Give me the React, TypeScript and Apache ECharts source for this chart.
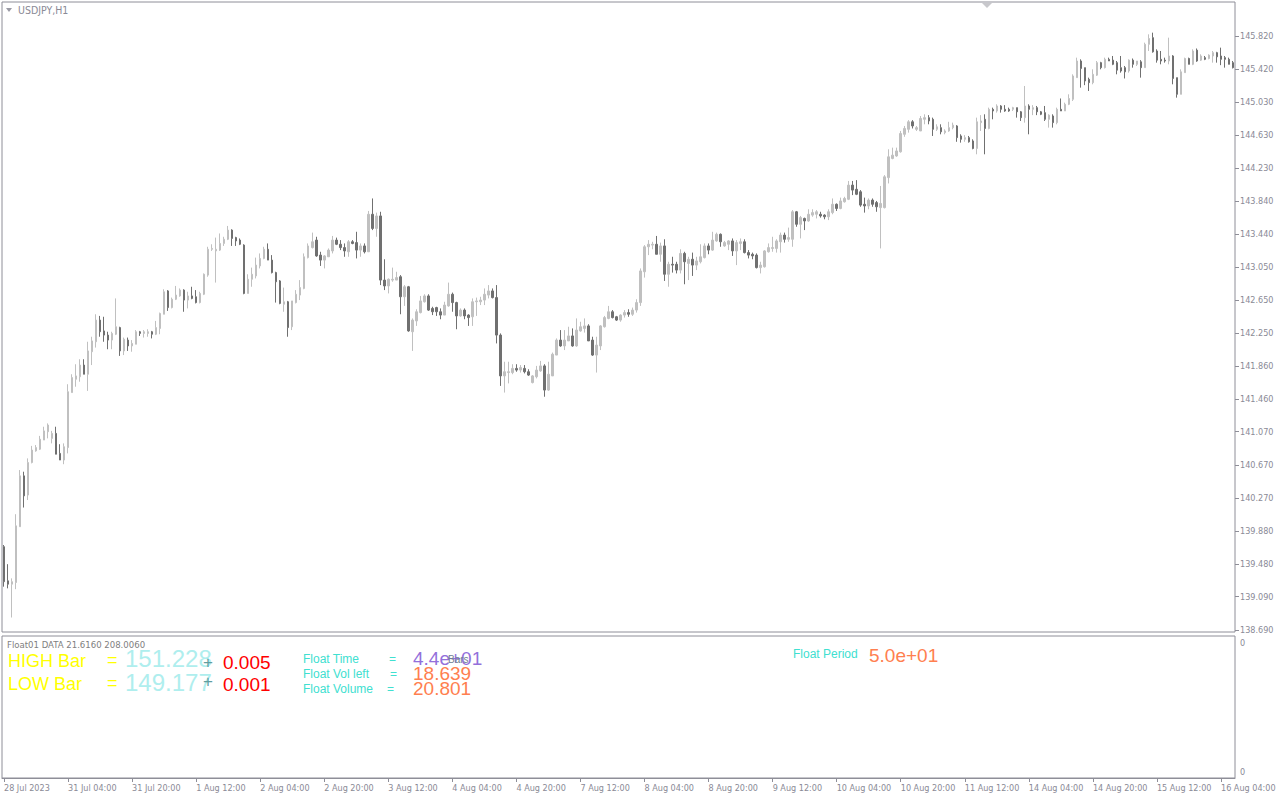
import React, { useEffect, useRef } from "react";
import * as echarts from "echarts";

// Each bar: [open, close, low, high]
type Bar = [number, number, number, number];

const d0728: Bar[] = [
  [139.69, 139.27, 139.21, 139.71], [139.28, 139.24, 139.19, 139.48], [139.24, 139.27, 138.84, 139.31], [139.26, 139.94, 139.18, 140.08],
  [139.93, 140.54, 139.93, 140.61], [140.54, 140.30, 140.16, 140.59], [140.31, 140.70, 140.25, 140.75], [140.70, 140.85, 140.69, 140.90],
  [140.84, 140.88, 140.83, 140.91], [140.86, 140.98, 140.85, 141.02], [140.97, 141.08, 140.97, 141.13], [141.07, 141.15, 140.99, 141.17],
];
const d0731: Bar[] = [
  [140.99, 141.05, 140.93, 141.08], [141.05, 140.80, 140.80, 141.13], [140.81, 140.73, 140.73, 140.92], [140.73, 140.89, 140.68, 140.93],
  [140.88, 141.55, 140.81, 141.64], [141.54, 141.72, 141.54, 141.76], [141.70, 141.74, 141.61, 141.88], [141.73, 141.87, 141.67, 141.94],
  [141.87, 141.76, 141.76, 141.94], [141.76, 142.04, 141.56, 142.15], [142.03, 142.16, 141.87, 142.21], [142.15, 142.41, 142.08, 142.48],
  [142.41, 142.27, 142.21, 142.46], [142.28, 142.23, 142.15, 142.45], [142.23, 142.17, 142.06, 142.27], [142.17, 142.25, 142.06, 142.27],
  [142.24, 142.33, 142.23, 142.67], [142.32, 142.04, 141.98, 142.33], [142.04, 142.18, 141.99, 142.20], [142.17, 142.10, 142.04, 142.20],
  [142.10, 142.13, 142.03, 142.17], [142.12, 142.27, 142.12, 142.29], [142.27, 142.25, 142.22, 142.28], [142.25, 142.27, 142.20, 142.29],
];
const d0801: Bar[] = [
  [142.25, 142.27, 142.21, 142.30], [142.27, 142.24, 142.19, 142.28], [142.24, 142.32, 142.23, 142.40], [142.31, 142.49, 142.24, 142.50],
  [142.48, 142.75, 142.48, 142.78], [142.76, 142.56, 142.52, 142.77], [142.56, 142.66, 142.55, 142.68], [142.66, 142.71, 142.65, 142.82],
  [142.70, 142.77, 142.69, 142.79], [142.77, 142.65, 142.51, 142.78], [142.65, 142.70, 142.55, 142.75], [142.70, 142.67, 142.66, 142.81],
  [142.69, 142.62, 142.61, 142.77], [142.62, 142.73, 142.61, 142.75], [142.72, 142.96, 142.71, 142.97], [142.95, 143.26, 142.93, 143.29],
  [143.26, 143.27, 143.24, 143.32], [143.24, 143.26, 142.86, 143.40], [143.25, 143.33, 143.24, 143.45], [143.33, 143.38, 143.30, 143.41],
  [143.38, 143.49, 143.37, 143.54], [143.49, 143.39, 143.30, 143.50], [143.40, 143.36, 143.30, 143.41], [143.37, 143.32, 143.31, 143.39],
];
const d0802: Bar[] = [
  [143.31, 142.73, 142.72, 143.32], [142.73, 142.90, 142.73, 142.96], [142.90, 142.96, 142.81, 143.04], [142.94, 143.07, 142.91, 143.16],
  [143.06, 143.15, 143.03, 143.21], [143.15, 143.26, 143.14, 143.29], [143.26, 143.13, 143.13, 143.33], [143.13, 142.98, 142.97, 143.19],
  [142.98, 142.87, 142.62, 142.99], [142.88, 142.61, 142.60, 142.89], [142.60, 142.63, 142.51, 142.80], [142.63, 142.32, 142.21, 142.64],
  [142.33, 142.64, 142.29, 142.64], [142.62, 142.72, 142.61, 142.77], [142.71, 142.80, 142.65, 142.89], [142.79, 143.17, 142.78, 143.21],
  [143.16, 143.30, 143.15, 143.33], [143.28, 143.35, 143.27, 143.46], [143.37, 143.18, 143.17, 143.41], [143.19, 143.13, 143.06, 143.23],
  [143.13, 143.18, 143.03, 143.19], [143.17, 143.25, 143.17, 143.27], [143.24, 143.37, 143.21, 143.42], [143.37, 143.32, 143.31, 143.40],
];
const d0803: Bar[] = [
  [143.32, 143.28, 143.25, 143.37], [143.28, 143.24, 143.17, 143.33], [143.23, 143.35, 143.17, 143.37], [143.35, 143.33, 143.32, 143.37],
  [143.34, 143.25, 143.15, 143.47], [143.25, 143.30, 143.17, 143.33], [143.30, 143.23, 143.21, 143.33], [143.23, 143.68, 143.23, 143.72],
  [143.68, 143.51, 143.49, 143.87], [143.51, 143.66, 143.41, 143.70], [143.66, 142.89, 142.83, 143.71], [142.89, 142.82, 142.77, 143.14],
  [142.82, 142.90, 142.73, 142.91], [142.89, 142.90, 142.87, 143.04], [142.89, 142.92, 142.89, 142.99], [142.93, 142.69, 142.48, 142.95],
  [142.69, 142.81, 142.58, 142.83], [142.81, 142.28, 142.27, 142.82], [142.27, 142.41, 142.04, 142.43], [142.40, 142.51, 142.34, 142.54],
  [142.50, 142.64, 142.49, 142.70], [142.63, 142.70, 142.62, 142.72], [142.70, 142.53, 142.52, 142.72], [142.55, 142.51, 142.47, 142.57],
];
const d0804: Bar[] = [
  [142.56, 142.51, 142.46, 142.57], [142.51, 142.47, 142.42, 142.55], [142.47, 142.59, 142.47, 142.63], [142.58, 142.72, 142.57, 142.86],
  [142.72, 142.62, 142.51, 142.74], [142.62, 142.46, 142.30, 142.63], [142.46, 142.53, 142.45, 142.55], [142.53, 142.46, 142.42, 142.55],
  [142.47, 142.44, 142.34, 142.48], [142.45, 142.63, 142.34, 142.67], [142.63, 142.64, 142.46, 142.68], [142.63, 142.65, 142.59, 142.69],
  [142.65, 142.72, 142.59, 142.79], [142.71, 142.76, 142.67, 142.83], [142.76, 142.68, 142.67, 142.79], [142.68, 142.23, 142.13, 142.83],
  [142.23, 141.74, 141.62, 142.25], [141.74, 141.79, 141.54, 141.91], [141.78, 141.79, 141.65, 141.91], [141.78, 141.83, 141.76, 141.88],
  [141.83, 141.81, 141.79, 141.88], [141.81, 141.84, 141.78, 141.87], [141.83, 141.79, 141.77, 141.87], [141.79, 141.75, 141.74, 141.82],
];
const d0807: Bar[] = [
  [141.66, 141.74, 141.65, 141.75], [141.73, 141.81, 141.71, 141.86], [141.80, 141.86, 141.79, 141.92], [141.86, 141.57, 141.49, 141.88],
  [141.57, 141.76, 141.56, 141.91], [141.74, 142.00, 141.74, 142.02], [141.99, 142.17, 141.99, 142.19], [142.17, 142.10, 142.09, 142.29],
  [142.10, 142.17, 142.05, 142.29], [142.16, 142.22, 142.16, 142.33], [142.22, 142.10, 142.09, 142.31], [142.10, 142.29, 142.09, 142.43],
  [142.28, 142.33, 142.27, 142.39], [142.31, 142.34, 142.26, 142.43], [142.34, 142.16, 142.16, 142.36], [142.17, 141.99, 141.98, 142.21],
  [141.99, 142.11, 141.78, 142.21], [142.10, 142.34, 142.05, 142.35], [142.33, 142.44, 142.32, 142.46], [142.43, 142.51, 142.42, 142.58],
  [142.51, 142.44, 142.43, 142.53], [142.45, 142.41, 142.40, 142.46], [142.41, 142.47, 142.39, 142.48], [142.47, 142.50, 142.44, 142.53],
];
const d0808: Bar[] = [
  [142.50, 142.48, 142.45, 142.54], [142.48, 142.53, 142.46, 142.56], [142.53, 142.62, 142.50, 142.66], [142.62, 143.00, 142.58, 143.03],
  [142.99, 143.29, 142.92, 143.31], [143.29, 143.32, 143.19, 143.37], [143.31, 143.32, 143.26, 143.35], [143.32, 143.20, 143.20, 143.42],
  [143.20, 143.30, 143.11, 143.34], [143.30, 142.96, 142.88, 143.38], [142.96, 143.08, 142.81, 143.11], [143.08, 143.07, 142.98, 143.17],
  [143.08, 143.01, 142.97, 143.11], [143.01, 143.21, 142.97, 143.26], [143.21, 143.11, 142.84, 143.23], [143.09, 143.14, 142.89, 143.17],
  [143.14, 143.07, 142.94, 143.22], [143.07, 143.12, 143.01, 143.17], [143.11, 143.17, 143.09, 143.32], [143.16, 143.30, 143.15, 143.33],
  [143.30, 143.25, 143.20, 143.33], [143.25, 143.37, 143.24, 143.47], [143.36, 143.44, 143.35, 143.46], [143.44, 143.35, 143.29, 143.45],
];
const d0809: Bar[] = [
  [143.30, 143.34, 143.29, 143.36], [143.32, 143.36, 143.25, 143.37], [143.36, 143.24, 143.18, 143.39], [143.24, 143.34, 143.07, 143.37],
  [143.33, 143.35, 143.25, 143.39], [143.35, 143.22, 143.21, 143.38], [143.22, 143.19, 143.15, 143.25], [143.20, 143.18, 143.14, 143.22],
  [143.19, 143.04, 143.03, 143.21], [143.04, 143.07, 142.97, 143.11], [143.05, 143.24, 143.04, 143.25], [143.23, 143.28, 143.22, 143.33],
  [143.27, 143.28, 143.23, 143.41], [143.27, 143.36, 143.22, 143.38], [143.35, 143.43, 143.22, 143.46], [143.43, 143.38, 143.34, 143.46],
  [143.38, 143.40, 143.35, 143.52], [143.38, 143.71, 143.29, 143.73], [143.71, 143.56, 143.53, 143.72], [143.56, 143.64, 143.39, 143.66],
  [143.63, 143.60, 143.49, 143.64], [143.60, 143.68, 143.59, 143.74], [143.67, 143.70, 143.65, 143.74], [143.68, 143.71, 143.63, 143.73],
];
const d0810: Bar[] = [
  [143.68, 143.66, 143.64, 143.71], [143.67, 143.65, 143.62, 143.68], [143.65, 143.71, 143.61, 143.74], [143.70, 143.80, 143.68, 143.87],
  [143.80, 143.75, 143.72, 143.81], [143.75, 143.84, 143.74, 143.88], [143.83, 143.87, 143.82, 143.89], [143.86, 144.03, 143.85, 144.08],
  [144.03, 143.97, 143.91, 144.08], [143.98, 143.92, 143.91, 144.09], [143.95, 143.79, 143.77, 143.97], [143.80, 143.78, 143.70, 143.88],
  [143.78, 143.85, 143.74, 143.87], [143.85, 143.80, 143.77, 143.87], [143.82, 143.77, 143.71, 143.84], [143.76, 143.81, 143.27, 144.02],
  [143.76, 144.13, 143.75, 144.15], [144.12, 144.37, 144.05, 144.46], [144.35, 144.39, 144.34, 144.48], [144.38, 144.44, 144.37, 144.48],
  [144.43, 144.65, 144.42, 144.68], [144.64, 144.71, 144.61, 144.74], [144.70, 144.79, 144.66, 144.81], [144.79, 144.74, 144.71, 144.81],
];
const d0811: Bar[] = [
  [144.70, 144.72, 144.68, 144.74], [144.68, 144.83, 144.68, 144.86], [144.82, 144.84, 144.76, 144.88], [144.84, 144.80, 144.76, 144.87],
  [144.82, 144.70, 144.62, 144.84], [144.70, 144.73, 144.68, 144.76], [144.72, 144.67, 144.64, 144.76], [144.66, 144.68, 144.64, 144.70],
  [144.68, 144.72, 144.67, 144.79], [144.72, 144.75, 144.70, 144.78], [144.74, 144.60, 144.55, 144.75], [144.62, 144.58, 144.54, 144.64],
  [144.58, 144.60, 144.55, 144.63], [144.60, 144.55, 144.54, 144.62], [144.56, 144.47, 144.46, 144.58], [144.47, 144.79, 144.40, 144.84],
  [144.78, 144.80, 144.68, 144.87], [144.82, 144.71, 144.40, 144.88], [144.71, 144.94, 144.70, 144.96], [144.94, 144.92, 144.82, 144.96],
  [144.92, 144.98, 144.90, 145.00], [144.98, 144.94, 144.90, 144.99], [144.94, 144.92, 144.91, 144.99], [144.94, 144.92, 144.91, 144.96],
];
const d0814: Bar[] = [
  [144.94, 144.96, 144.92, 144.97], [144.96, 144.91, 144.84, 144.96], [144.91, 144.84, 144.80, 144.92], [144.84, 144.98, 144.78, 145.22],
  [144.98, 144.94, 144.64, 145.00], [144.94, 144.96, 144.87, 144.99], [144.96, 144.91, 144.87, 144.98], [144.91, 144.88, 144.87, 144.92],
  [144.90, 144.82, 144.80, 144.98], [144.82, 144.87, 144.72, 144.88], [144.86, 144.78, 144.72, 144.88], [144.78, 144.94, 144.76, 144.96],
  [144.94, 144.92, 144.92, 145.07], [144.92, 145.00, 144.92, 145.02], [145.00, 145.07, 144.99, 145.12], [145.06, 145.34, 145.04, 145.36],
  [145.32, 145.52, 145.32, 145.56], [145.52, 145.43, 145.20, 145.54], [145.44, 145.28, 145.23, 145.44], [145.30, 145.26, 145.16, 145.32],
  [145.26, 145.36, 145.24, 145.42], [145.35, 145.50, 145.34, 145.52], [145.50, 145.44, 145.42, 145.51], [145.44, 145.54, 145.43, 145.56],
];
const d0815: Bar[] = [
  [145.54, 145.52, 145.52, 145.56], [145.53, 145.48, 145.47, 145.58], [145.50, 145.41, 145.36, 145.52], [145.44, 145.40, 145.38, 145.58],
  [145.44, 145.39, 145.31, 145.46], [145.40, 145.53, 145.38, 145.54], [145.53, 145.48, 145.44, 145.55], [145.48, 145.52, 145.46, 145.52],
  [145.51, 145.44, 145.32, 145.53], [145.44, 145.72, 145.44, 145.74], [145.72, 145.79, 145.64, 145.84], [145.80, 145.63, 145.62, 145.86],
  [145.64, 145.53, 145.50, 145.66], [145.54, 145.52, 145.48, 145.64], [145.53, 145.52, 145.50, 145.56], [145.52, 145.58, 145.48, 145.80],
  [145.58, 145.31, 145.24, 145.59], [145.32, 145.12, 145.08, 145.32], [145.12, 145.39, 145.12, 145.42], [145.38, 145.55, 145.38, 145.56],
  [145.55, 145.48, 145.48, 145.56], [145.48, 145.64, 145.47, 145.66], [145.65, 145.52, 145.51, 145.67], [145.53, 145.58, 145.52, 145.60],
];
const d0816: Bar[] = [
  [145.56, 145.54, 145.53, 145.58], [145.55, 145.59, 145.54, 145.60], [145.58, 145.62, 145.50, 145.64], [145.62, 145.57, 145.50, 145.63],
  [145.58, 145.54, 145.47, 145.68], [145.56, 145.54, 145.44, 145.58], [145.54, 145.48, 145.48, 145.56], [145.50, 145.44, 145.43, 145.52],
];

const tradingDays: { day: string; firstHour: number; bars: Bar[] }[] = [
  { day: "28 Jul", firstHour: 12, bars: d0728 },
  { day: "31 Jul", firstHour: 0, bars: d0731 },
  { day: "1 Aug", firstHour: 0, bars: d0801 },
  { day: "2 Aug", firstHour: 0, bars: d0802 },
  { day: "3 Aug", firstHour: 0, bars: d0803 },
  { day: "4 Aug", firstHour: 0, bars: d0804 },
  { day: "7 Aug", firstHour: 0, bars: d0807 },
  { day: "8 Aug", firstHour: 0, bars: d0808 },
  { day: "9 Aug", firstHour: 0, bars: d0809 },
  { day: "10 Aug", firstHour: 0, bars: d0810 },
  { day: "11 Aug", firstHour: 0, bars: d0811 },
  { day: "14 Aug", firstHour: 0, bars: d0814 },
  { day: "15 Aug", firstHour: 0, bars: d0815 },
  { day: "16 Aug", firstHour: 0, bars: d0816 },
];

const firstDateLabel = "28 Jul 2023";
const priceTicks = [138.69, 139.09, 139.48, 139.88, 140.27, 140.67, 141.07, 141.46, 141.86, 142.25,
  142.65, 143.05, 143.44, 143.84, 144.23, 144.63, 145.03, 145.42, 145.82];

const categories: string[] = [];
const ohlc: Bar[] = [];
tradingDays.forEach((d) => {
  d.bars.forEach((b, i) => {
    const h = d.firstHour + i;
    categories.push(`${d.day} ${h < 10 ? "0" + h : h}:00`);
    ohlc.push(b);
  });
});

const FRAME = "#8e8e98";
const LABEL = "#8a8a96";
const UI_FONT = "'DejaVu Sans Condensed', 'DejaVu Sans', sans-serif";
const ARIAL = "'Liberation Sans', Arial, sans-serif";

function txt(x: number, y: number, text: string, fill: string, fontSize: number, fontFamily = ARIAL, extra: any = {}) {
  return {
    type: "text",
    x,
    y,
    silent: true,
    style: { text, fill, fontSize, fontFamily, textVerticalAlign: "middle", ...extra },
  };
}

export default function App() {
  const ref = useRef<HTMLDivElement>(null);
  useEffect(() => {
    if (!ref.current) return;
    const chart = echarts.init(ref.current, undefined, { renderer: "svg" });
    chart.setOption({
      animation: false,
      backgroundColor: "#ffffff",
      grid: [
        { left: 2, top: 2, width: 1233, height: 630, show: true, borderColor: FRAME, borderWidth: 1, backgroundColor: "transparent" },
        { left: 2, top: 636, width: 1233, height: 142, show: true, borderColor: FRAME, borderWidth: 1, backgroundColor: "transparent" },
      ],
      xAxis: [
        {
          type: "category", gridIndex: 0, data: categories, boundaryGap: true,
          axisLine: { show: false }, axisTick: { show: false }, axisLabel: { show: false }, splitLine: { show: false },
        },
        {
          type: "category", gridIndex: 1, data: categories, boundaryGap: true,
          axisLine: { show: true, lineStyle: { color: FRAME, width: 1 } },
          axisTick: { show: true, interval: 15, alignWithLabel: true, length: 4, lineStyle: { color: FRAME } },
          axisLabel: {
            show: true, interval: 15, align: "left", margin: 5, color: LABEL, fontSize: 9, fontFamily: UI_FONT,
            formatter: (v: string, i: number) => (i === 0 ? firstDateLabel : v),
          },
          splitLine: { show: false },
        },
      ],
      yAxis: [
        {
          type: "value", gridIndex: 0, position: "right", min: 138.666, max: 146.228,
          axisLine: { show: false }, splitLine: { show: false },
          axisTick: { show: true, length: 4, customValues: priceTicks, lineStyle: { color: FRAME } },
          axisLabel: {
            show: true, customValues: priceTicks, margin: 5, color: LABEL, fontSize: 9, fontFamily: UI_FONT,
            formatter: (v: number) => v.toFixed(3),
          },
        },
        {
          type: "value", gridIndex: 1, position: "right", min: 0, max: 1,
          axisLine: { show: false }, splitLine: { show: false }, axisTick: { show: false }, axisLabel: { show: false },
        },
      ],
      series: [
        {
          type: "candlestick",
          xAxisIndex: 0,
          yAxisIndex: 0,
          data: ohlc,
          barWidth: 2,
          itemStyle: {
            color: "#c0c0c0", color0: "#707070",
            borderColor: "#c0c0c0", borderColor0: "#707070", borderColorDoji: "#c0c0c0",
            borderWidth: 1,
          },
          emphasis: { disabled: true },
        },
      ],
      graphic: [
        { type: "polygon", silent: true, shape: { points: [[6, 8], [12, 8], [9, 12]] }, style: { fill: "#9a9aa4" } },
        txt(18, 10, "USDJPY,H1", LABEL, 10.5, UI_FONT),
        { type: "polygon", silent: true, shape: { points: [[982, 3], [992, 3], [987, 8]] }, style: { fill: "#c8c8cc" } },
        txt(7, 644, "Float01 DATA 21.6160 208.0060", "#808080", 9.5, UI_FONT),
        txt(8, 661, "HIGH Bar", "#ffff00", 18),
        txt(107, 660, "=", "#ffff00", 18),
        txt(125, 658, "151.228", "#afeeee", 24),
        txt(203, 662, "+", "#5f9ea0", 17),
        txt(223, 662, "0.005", "#ff0000", 19),
        txt(8, 684, "LOW Bar", "#ffff00", 18),
        txt(107, 683, "=", "#ffff00", 18),
        txt(125, 682, "149.177", "#afeeee", 24),
        txt(203, 681, "+", "#5f9ea0", 17),
        txt(223, 684, "0.001", "#ff0000", 19),
        txt(303, 659, "Float Time", "#40e0d0", 12),
        txt(389, 659, "=", "#40e0d0", 12),
        txt(413, 658, "4.4e+01", "#9370db", 19),
        txt(448, 659, "Bars", "#708090", 10),
        txt(303, 674, "Float Vol left", "#40e0d0", 12),
        txt(390, 674, "=", "#40e0d0", 12),
        txt(413, 673, "18.639", "#ff7f50", 19),
        txt(303, 689, "Float Volume", "#40e0d0", 12),
        txt(387, 689, "=", "#40e0d0", 12),
        txt(413, 688, "20.801", "#ff7f50", 19),
        txt(793, 654, "Float Period", "#40e0d0", 12),
        txt(869, 655, "5.0e+01", "#ff7f50", 19),
        txt(1240, 643, "0", LABEL, 9, UI_FONT),
        txt(1240, 772, "0", LABEL, 9, UI_FONT),
      ],
    });
    return () => chart.dispose();
  }, []);
  return <div ref={ref} style={{ position: "fixed", left: 0, top: 0, width: 1280, height: 800, background: "#fff" }} />;
}
